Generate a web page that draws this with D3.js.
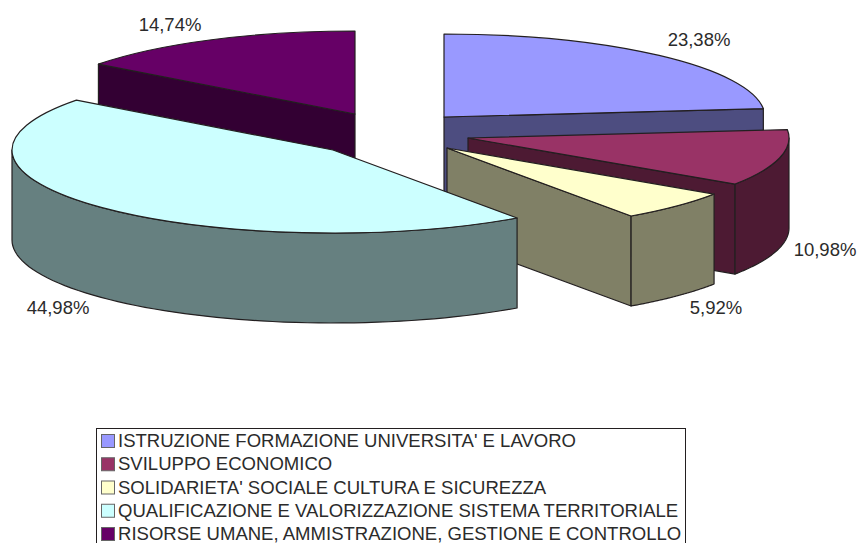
<!DOCTYPE html>
<html>
<head>
<meta charset="utf-8">
<script src="https://cdn.jsdelivr.net/npm/d3@7"></script>
<style>
  html, body { margin: 0; padding: 0; background: #fff; overflow: hidden; }
  text { font-family: "Liberation Sans", Arial, sans-serif; fill: #2b2b2b; }
</style>
</head>
<body>
<script>
var categories = [
  "ISTRUZIONE FORMAZIONE UNIVERSITA' E LAVORO",
  "SVILUPPO ECONOMICO",
  "SOLIDARIETA' SOCIALE CULTURA E SICUREZZA",
  "QUALIFICAZIONE E VALORIZZAZIONE SISTEMA TERRITORIALE",
  "RISORSE UMANE, AMMISTRAZIONE, GESTIONE E CONTROLLO"
];
var values = [23.38, 10.98, 5.92, 44.98, 14.74];
var valueLabels = ["23,38%", "10,98%", "5,92%", "44,98%", "14,74%"];

var topColors = ["#9999ff", "#993366", "#ffffcc", "#ccffff", "#660066"];
var sideColors = ["#4d4d80", "#4d1a33", "#808066", "#668080", "#330033"];

// exploded centre of each slice, and where its label sits
var centersX = [444, 468, 447, 333, 355];
var centersY = [117, 138, 148, 150, 114];
var labelX = [699, 825, 716, 58, 170];
var labelY = [46, 256, 314, 314, 31];

var rx = 321, ry = 83, depth = 90;
var lineColor = "#231f20";
var width = 859, height = 543;

var svg = d3.select("body").append("svg")
  .attr("width", width)
  .attr("height", height);

var slices = d3.pie().sort(null)(values);
var arc = d3.arc().innerRadius(0).outerRadius(rx);
var line = d3.line();

function edgePoint(i, angle, dy) {
  return [centersX[i] + rx * Math.sin(angle), centersY[i] - ry * Math.cos(angle) + dy];
}

// outside wall, only the part facing the viewer
function wallPath(d, i) {
  var from = Math.max(d.startAngle, Math.PI / 2);
  var to = Math.min(d.endAngle, Math.PI * 1.5);
  if (to <= from) return null;
  var angles = d3.range(0, 61).map(function(k) { return from + (to - from) * k / 60; });
  var upper = angles.map(function(a) { return edgePoint(i, a, 0); });
  var lower = angles.slice().reverse().map(function(a) { return edgePoint(i, a, depth); });
  return line(upper.concat(lower)) + "Z";
}

// flat cut face going down from the centre to the rim
function cutPath(i, angle) {
  var c = [centersX[i], centersY[i]];
  return line([c, edgePoint(i, angle, 0), edgePoint(i, angle, depth), [c[0], c[1] + depth]]) + "Z";
}

// back slices first so the near ones cover them
var drawOrder = [4, 0, 1, 2, 3];

drawOrder.forEach(function(i) {
  var d = slices[i];
  var g = svg.append("g").attr("class", "slice");

  var cuts = [];
  if (d.endAngle > 0 && d.endAngle < Math.PI) cuts.push(d.endAngle);
  if (d.startAngle > Math.PI && d.startAngle < 2 * Math.PI) cuts.push(d.startAngle);
  cuts.forEach(function(a) {
    g.append("path")
      .attr("d", cutPath(i, a))
      .attr("fill", sideColors[i])
      .attr("stroke", lineColor)
      .attr("stroke-width", 1.2)
      .attr("stroke-linejoin", "round");
  });

  var wall = wallPath(d, i);
  if (wall) {
    g.append("path")
      .attr("d", wall)
      .attr("fill", sideColors[i])
      .attr("stroke", lineColor)
      .attr("stroke-width", 1.2)
      .attr("stroke-linejoin", "round");
  }

  g.append("path")
    .attr("d", arc(d))
    .attr("transform", "translate(" + centersX[i] + "," + centersY[i] + ") scale(1," + (ry / rx) + ")")
    .attr("fill", topColors[i])
    .attr("stroke", lineColor)
    .attr("stroke-width", 1.2)
    .attr("vector-effect", "non-scaling-stroke")
    .attr("stroke-linejoin", "round");
});

svg.selectAll("text.value").data(valueLabels).enter().append("text")
  .attr("class", "value")
  .attr("x", function(d, i) { return labelX[i]; })
  .attr("y", function(d, i) { return labelY[i]; })
  .attr("text-anchor", "middle")
  .attr("font-size", 18.5)
  .text(function(d) { return d; });

// legend
var rowScale = d3.scalePoint().domain(categories).range([447, 540]);

svg.append("rect")
  .attr("x", 96.5)
  .attr("y", 428.5)
  .attr("width", 589)
  .attr("height", 130)
  .attr("fill", "#fff")
  .attr("stroke", lineColor)
  .attr("stroke-width", 1);

var rows = svg.selectAll("g.row").data(categories).enter().append("g").attr("class", "row");

rows.append("rect")
  .attr("x", 101.5)
  .attr("y", function(d) { return rowScale(d) - 12.5; })
  .attr("width", 13)
  .attr("height", 13)
  .attr("fill", function(d, i) { return topColors[i]; })
  .attr("stroke", "#666")
  .attr("stroke-width", 1);

rows.append("text")
  .attr("x", 118)
  .attr("y", function(d) { return rowScale(d); })
  .attr("font-size", 18.55)
  .text(function(d) { return d; });
</script>
</body>
</html>
